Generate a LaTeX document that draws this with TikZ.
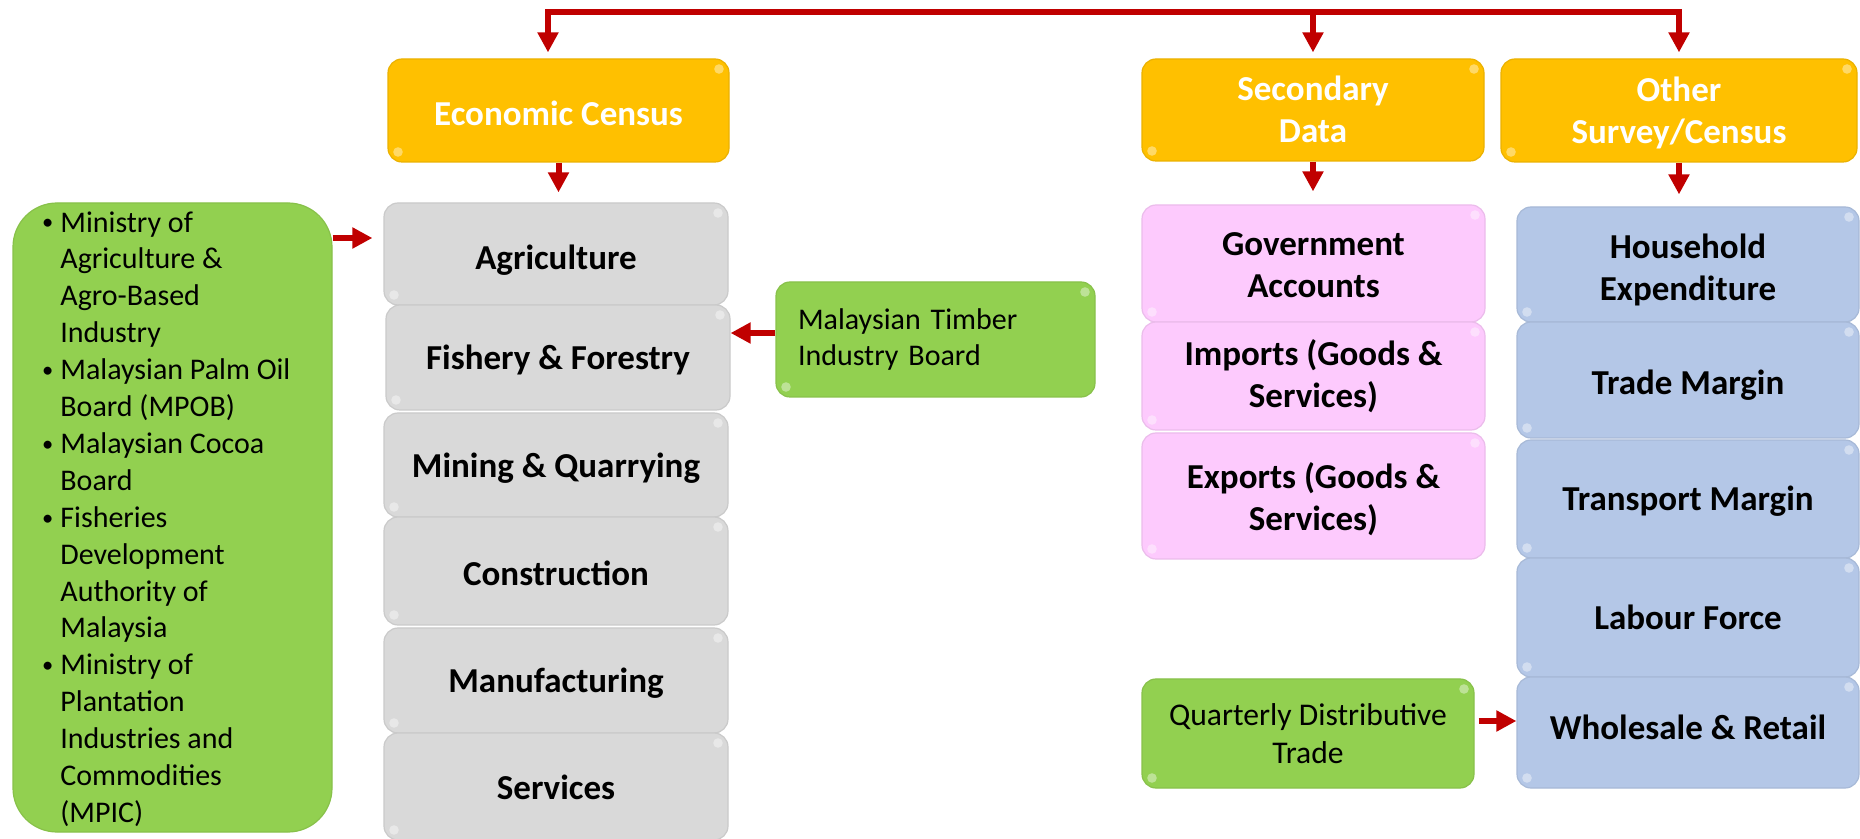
\documentclass[tikz,border=0pt]{standalone}
\usepackage{fontspec}
\setmainfont{Carlito}
\usetikzlibrary{arrows.meta}
\definecolor{cOrange}{HTML}{FFC000}
\definecolor{cGray}{HTML}{D9D9D9}
\definecolor{cGreen}{HTML}{92D050}
\definecolor{cPink}{HTML}{FDCAFD}
\definecolor{cBlue}{HTML}{B4C7E7}
\definecolor{cRed}{HTML}{C00000}
\newcommand{\mybul}{\leavevmode\llap{\raisebox{0.15ex}{\scalebox{0.75}{\textbullet}}\hspace{3.5pt}}}
\newcommand{\dn}[2]{\raisebox{-#1}[\height][\depth]{#2}}
\newcommand{\dnm}[2]{\raisebox{-#1}[\height][\depth]{\begin{tabular}{@{}c@{}}#2\end{tabular}}}
\begin{document}
\begin{tikzpicture}[x=0.5pt,y=-0.5pt,
  basebox/.style={rounded corners=7pt, inner sep=0pt, align=center, line width=0.6pt,
    path picture={
      \fill[white,opacity=0.4] ([xshift=-5pt,yshift=-5pt]path picture bounding box.north east) circle (2.4pt);
      \fill[white,opacity=0.4] ([xshift=5pt,yshift=5pt]path picture bounding box.south west) circle (2.4pt);
    }},
  boldtext/.style={font=\bfseries\fontsize{17.5}{21}\selectfont},
  regtext/.style={font=\fontsize{15}{18.45}\selectfont},
  headbox/.style={basebox, fill=cOrange, draw=cOrange!92!black, text=white, boldtext},
  graybox/.style={basebox, fill=cGray, draw=cGray!93!black, boldtext, minimum width=172pt},
  pinkbox/.style={basebox, fill=cPink, draw=cPink!93!black, boldtext, minimum width=171.5pt},
  bluebox/.style={basebox, fill=cBlue, draw=cBlue!93!black, boldtext, minimum width=171pt},
  greenbox/.style={basebox, fill=cGreen, draw=cGreen!93!black, regtext},
  redline/.style={draw=cRed, line width=3pt, line cap=rect},
  arr/.style={draw=cRed, line width=3pt, -{Triangle[width=10pt,length=10pt]}}
]
\useasboundingbox (0,0) rectangle (1860,839);

% header boxes
\node[headbox, minimum width=170.5pt, minimum height=51.5pt] (econ) at (558.5,110.5) {\dn{1.2pt}{Economic Census}};
\node[headbox, minimum width=171pt, minimum height=51pt] (sec) at (1313,110) {\dnm{1.8pt}{Secondary\\Data}};
\node[headbox, minimum width=178pt, minimum height=51.5pt] (oth) at (1679,110.5) {\dnm{1.8pt}{Other\\Survey/Census}};

% economic census column
\node[graybox, minimum height=51pt] (agri) at (556,254) {\dn{3pt}{Agriculture}};
\node[graybox, minimum height=52.5pt] (fish) at (558,357.5) {\dn{1.2pt}{Fishery \& Forestry}};
\node[graybox, minimum height=52pt] (mine) at (556,465) {\dn{1.8pt}{Mining \& Quarrying}};
\node[graybox, minimum height=54pt] (cons) at (556,571) {\dn{1.2pt}{Construction}};
\node[graybox, minimum height=52.5pt] (manu) at (556,680.5) {\dn{1.2pt}{Manufacturing}};
\node[graybox, minimum height=53.5pt] (serv) at (556,786.5) {\dn{0.6pt}{Services}};

% secondary data column
\node[pinkbox, minimum height=58.5pt] (gov) at (1313.5,263.5) {\dnm{2.4pt}{Government\\Accounts}};
\node[pinkbox, minimum height=54pt] (imp) at (1313.5,376) {\dnm{1pt}{Imports (Goods \&\\Services)}};
\node[pinkbox, minimum height=63pt] (exp) at (1313.5,496) {\dnm{2.7pt}{Exports (Goods \&\\Services)}};

% other survey column
\node[bluebox, minimum height=57.5pt] (hh) at (1688,264.5) {\dnm{3.4pt}{Household\\Expenditure}};
\node[bluebox, minimum height=58pt] (trade) at (1688,380) {\dn{2.4pt}{Trade Margin}};
\node[bluebox, minimum height=59pt] (transp) at (1688,499) {\dn{1.2pt}{Transport Margin}};
\node[bluebox, minimum height=59.5pt] (labour) at (1688,617.5) {Labour Force};
\node[bluebox, minimum height=55.5pt] (whole) at (1688,732.5) {\dn{-2.4pt}{Wholesale \& Retail}};

% green source boxes
\node[greenbox, rounded corners=22pt, minimum width=159.5pt, minimum height=314.5pt] (left) at (172.5,517.5) {};
\node[regtext, inner sep=0pt, align=left, anchor=west] (lefttext) at (60,519) {%
\mybul Ministry of\\
Agriculture \&\\
Agro-Based\\
Industry\\
\mybul Malaysian Palm Oil\\
Board (MPOB)\\
\mybul Malaysian Cocoa\\
Board\\
\mybul Fisheries\\
Development\\
Authority of\\
Malaysia\\
\mybul Ministry of\\
Plantation\\
Industries and\\
Commodities\\
(MPIC)};
\node[greenbox, align=left, inner xsep=11pt, text width=137.5pt, minimum height=57.5pt] (timber) at (935.5,339.5) {Malaysian Timber\\Industry Board};
\node[greenbox, font=\fontsize{15.8}{19}\selectfont, minimum width=166pt, minimum height=54.5pt] (quart) at (1308,733.5) {Quarterly Distributive\\Trade};

% connectors
\coordinate (tl) at (548,12);
\coordinate (tr) at (oth.north |- tl);
\draw[redline] (tl) -- (tr);
\draw[arr] (tl) -- ([yshift=3pt]econ.north -| tl);
\draw[arr] (sec.north |- tl) -- ([yshift=3pt]sec.north);
\draw[arr] (tr) -- ([yshift=3pt]oth.north);
\draw[arr] (econ.south) -- ([yshift=5pt]agri.north -| econ.south);
\draw[arr] (sec.south) -- ([yshift=6.5pt]gov.north -| sec.south);
\draw[arr] (oth.south) -- ([yshift=6pt]hh.north -| oth.south);
\coordinate (la) at (0,238);
\draw[arr] (left.east |- la) -- ([xshift=-5.5pt]agri.west |- la);
\coordinate (lb) at (0,333);
\draw[arr] (timber.west |- lb) -- (fish.east |- lb);
\coordinate (lc) at (0,721);
\draw[arr] ([xshift=2pt]quart.east |- lc) -- (whole.west |- lc);
\end{tikzpicture}
\end{document}
